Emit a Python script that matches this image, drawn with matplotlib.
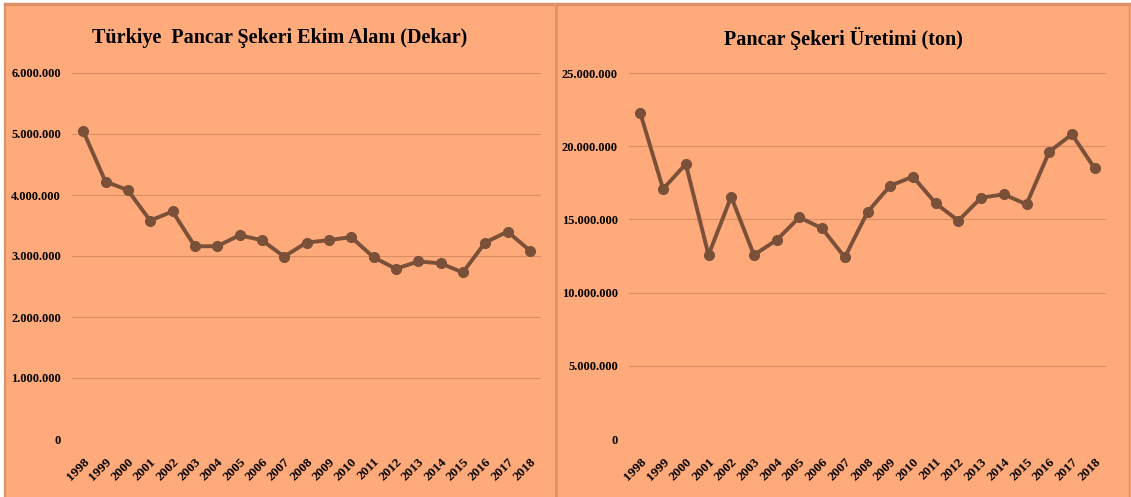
import matplotlib
matplotlib.use("Agg")
import matplotlib.pyplot as plt
from matplotlib.lines import Line2D
from matplotlib.patches import Rectangle
from matplotlib.ticker import FuncFormatter

years = [str(y) for y in range(1998, 2019)]
area_dekar = [5050000, 4220000, 4080000, 3580000, 3730000, 3160000, 3160000,
              3340000, 3260000, 2990000, 3220000, 3260000, 3310000, 2980000,
              2790000, 2910000, 2880000, 2730000, 3220000, 3400000, 3090000]
production_ton = [22250000, 17080000, 18780000, 12570000, 16550000, 12570000,
                  13590000, 15140000, 14390000, 12410000, 15500000, 17300000,
                  17920000, 16100000, 14910000, 16480000, 16710000, 16030000,
                  19620000, 20810000, 18490000]
left_title = "Türkiye  Pancar Şekeri Ekim Alanı (Dekar)"
right_title = "Pancar Şekeri Üretimi (ton)"
left_ticks = [0, 1000000, 2000000, 3000000, 4000000, 5000000, 6000000]
right_ticks = [0, 5000000, 10000000, 15000000, 20000000, 25000000]

BG = "#FFAA7A"
BORDER = "#DE9168"
GRID = "#D98D66"
LINE = "#7A5039"
W, H = 1131, 497

plt.rcParams['font.family'] = ['Liberation Serif', 'DejaVu Serif']

fig = plt.figure(figsize=(W / 100, H / 100), dpi=100)
fig.patch.set_facecolor(BG)

# white margins at left and top
fig.patches.append(Rectangle((0, 0), 5 / W, 1, transform=fig.transFigure,
                             facecolor="white", edgecolor="none", zorder=0))
fig.patches.append(Rectangle((0, 1 - 3 / H), 1, 3 / H, transform=fig.transFigure,
                             facecolor="white", edgecolor="none", zorder=0))
# borders
for xs, ys, lw in [([5 / W, 5 / W], [0, 1 - 4 / H], 1.5),
                   ([5 / W, 1], [1 - 4 / H, 1 - 4 / H], 2.5),
                   ([555.5 / W, 555.5 / W], [0, 1 - 4 / H], 2.0),
                   ([1129 / W, 1129 / W], [0, 1 - 4 / H], 1.0)]:
    fig.lines.append(Line2D(xs, ys, transform=fig.transFigure, color=BORDER, lw=lw))


def fmt(v, _):
    if v == 0:
        return "0"
    return f"{int(v):,}".replace(",", ".")


def panel(rect, values, ticks, title, title_x):
    ax = fig.add_axes(rect)
    ax.set_zorder(2)
    ax.set_facecolor(BG)
    x = list(range(len(years)))
    ax.plot(x, values, color=LINE, lw=2.8, marker="o", ms=7, zorder=3)
    ax.set_xlim(-0.5, len(years) - 0.5)
    ax.set_ylim(ticks[0], ticks[-1])
    ax.set_yticks(ticks)
    ax.yaxis.set_major_formatter(FuncFormatter(fmt))
    ax.set_xticks(x)
    ax.set_xticklabels(years, rotation=45, ha="right", va="top",
                       rotation_mode="anchor", fontweight="bold", fontsize=9.5)
    for lab in ax.get_yticklabels():
        lab.set_fontweight("bold")
        lab.set_fontsize(9)
    ax.tick_params(axis="both", length=0)
    ax.tick_params(axis="y", pad=8)
    ax.tick_params(axis="x", pad=12)
    ax.grid(axis="y", color=GRID, lw=0.8)
    ax.set_axisbelow(True)
    for s in ax.spines.values():
        s.set_visible(False)
    fig.text(title_x / W, 1 - 38 / H, title, ha="center", va="center",
             fontsize=14.5, fontweight="bold", zorder=5)
    return ax


bottom = (H - 439) / H
height = (439 - 73) / H
panel([72 / W, bottom, 469 / W, height], area_dekar, left_ticks, left_title, 280)
panel([629 / W, bottom, 477 / W, height], production_ton, right_ticks, right_title, 843)

fig.savefig("out.png", dpi=100, facecolor=fig.get_facecolor())
